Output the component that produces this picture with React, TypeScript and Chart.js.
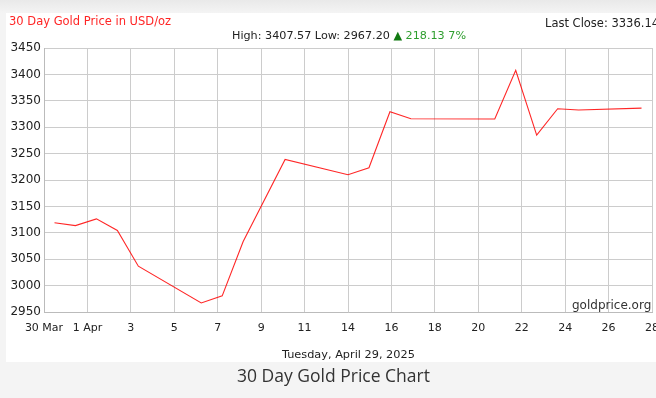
import React, { useEffect, useRef } from "react";
import { Chart, registerables } from "chart.js";

Chart.register(...registerables);

// Day offsets from 30 Mar 2025 (vertices of the price line)
const dayOffsets = [0, 1, 2, 3, 4, 7, 8, 9, 11, 14, 15, 16, 17, 21, 22, 23, 24, 25, 28];
const prices = [
  3118.9, 3113.7, 3126.4, 3104.3, 3036.8, 2967.2, 2980.5, 3083.4, 3238.9, 3209.9,
  3223.1, 3329.3, 3316.0, 3315.5, 3407.57, 3285.1, 3335.0, 3332.5, 3336.14,
];
const xTickLabels = ["30 Mar", "1 Apr", "3", "5", "7", "9", "11", "14", "16", "18", "20", "22", "24", "26", "28"];
const axisDays = 29;
const yMin = 2950;
const yMax = 3450;
const yStep = 50;

const FONT = "'DejaVu Sans', Verdana, sans-serif";

export default function App() {
  const ref = useRef<HTMLCanvasElement | null>(null);

  useEffect(() => {
    if (!ref.current) return;
    const points = dayOffsets.map((d, i) => ({ x: d + 0.5, y: prices[i] }));
    const chart = new Chart(ref.current, {
      type: "line",
      data: {
        datasets: [
          {
            data: points,
            borderColor: "rgba(255,0,0,0.85)",
            borderWidth: 1.1,
            pointRadius: 0,
            tension: 0,
            fill: false,
          },
        ],
      },
      options: {
        animation: false,
        responsive: false,
        devicePixelRatio: 1,
        layout: { padding: { left: 0, top: 48, right: 4, bottom: 0 } },
        plugins: { legend: { display: false }, tooltip: { enabled: false }, title: { display: false } },
        scales: {
          x: {
            type: "linear",
            min: 0,
            max: axisDays,
            afterBuildTicks: (scale: any) => {
              scale.ticks = xTickLabels.map((_, i) => ({ value: (i * axisDays) / (xTickLabels.length - 1) }));
            },
            afterFit: (scale: any) => {
              scale.height = 50;
              scale.paddingLeft = 0;
              scale.paddingRight = 0;
            },
            grid: { color: "#cccccc", lineWidth: 1, drawTicks: false },
            border: { display: true, color: "#bbbbbb" },
            ticks: {
              autoSkip: false,
              maxRotation: 0,
              padding: 10,
              color: "#222",
              font: { family: FONT, size: 11 },
              callback: (_v: any, i: number) => xTickLabels[i],
            },
          },
          y: {
            min: yMin,
            max: yMax,
            afterFit: (scale: any) => {
              scale.width = 44;
              scale.paddingTop = 0;
              scale.paddingBottom = 0;
            },
            grid: { color: "#cccccc", lineWidth: 1, drawTicks: false },
            border: { display: true, color: "#bbbbbb" },
            ticks: {
              stepSize: yStep,
              padding: 3,
              color: "#222",
              font: { family: FONT, size: 12 },
              callback: (v: any) => String(v),
            },
          },
        },
      },
    });
    return () => chart.destroy();
  }, []);

  const abs = (o: React.CSSProperties): React.CSSProperties => ({
    position: "absolute",
    whiteSpace: "nowrap",
    lineHeight: 1,
    fontFamily: FONT,
    ...o,
  });

  return (
    <div
      style={{
        position: "fixed",
        left: 0,
        top: 0,
        width: 656,
        height: 398,
        overflow: "hidden",
        background: "#f4f4f4",
      }}
    >
      <div style={{ position: "absolute", left: 0, top: 0, width: 656, height: 13, background: "linear-gradient(#e9e9e9, #f4f4f4)" }} />
      <div style={{ position: "absolute", left: 6, top: 13, width: 650, height: 349, background: "#ffffff" }} />
      <canvas ref={ref} width={656} height={362} style={{ position: "absolute", left: 0, top: 0, width: 656, height: 362 }} />
      <div style={abs({ left: 9, top: 16, fontSize: 11.5, color: "#ff2525" })}>30 Day Gold Price in USD/oz</div>
      <div style={abs({ left: 545, top: 18, fontSize: 11.5, color: "#222" })}>Last Close: 3336.14</div>
      <div style={abs({ left: 232, top: 29.7, fontSize: 11.2, color: "#222" })}>
        High: 3407.57 Low: 2967.20 <span style={{ color: "#127a12" }}>▲</span>
        <span style={{ color: "#2e9e2e" }}> 218.13 7%</span>
      </div>
      <div style={abs({ left: 572, top: 298.8, fontSize: 12, color: "#333" })}>goldprice.org</div>
      <div style={abs({ left: 282, top: 349, fontSize: 11.3, color: "#222" })}>Tuesday, April 29, 2025</div>
      <div style={abs({ left: 237, top: 366.8, fontSize: 17.5, color: "#333", fontFamily: "'Open Sans', 'Noto Sans', sans-serif" })}>
        30 Day Gold Price Chart
      </div>
    </div>
  );
}
